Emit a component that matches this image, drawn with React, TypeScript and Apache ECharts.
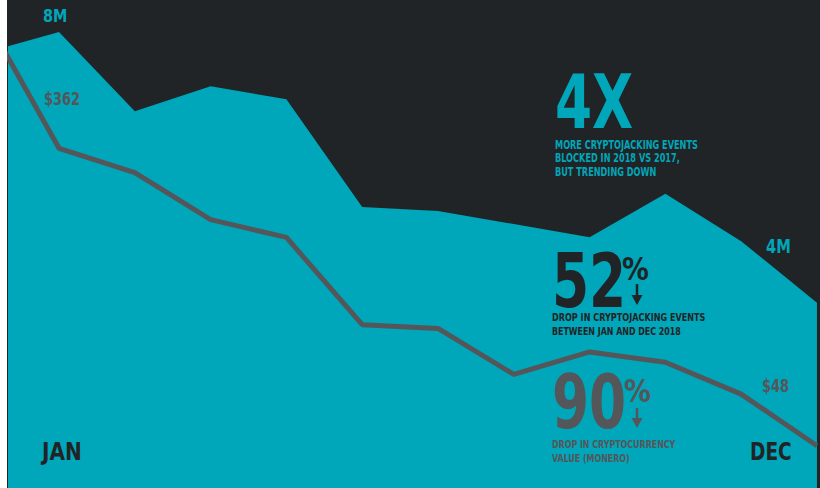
import React, { useEffect, useRef } from "react";
import * as echarts from "echarts";

// Month positions (first point sits just past the left edge of the plot)
const months = ["Jan", "Feb", "Mar", "Apr", "May", "Jun", "Jul", "Aug", "Sep", "Oct", "Nov", "Dec"];
const monthPos = [-1, 0, 1, 2, 3, 4, 5, 6, 7, 8, 9, 10];
// Cryptojacking events blocked (millions)
const eventsM = [7.63, 8.0, 6.61, 7.05, 6.82, 4.93, 4.86, 4.63, 4.4, 5.16, 4.33, 3.25];
// Monero value (USD)
const moneroUSD = [506, 362, 336, 286, 267, 174, 170, 121, 145, 134, 100, 45];

const TEAL = "#00a6b9";
const DARK = "#212426";
const GRAY = "#545659";
const FONT = '"DejaVu Sans Condensed", "DejaVu Sans", sans-serif';
const SQUEEZE = 0.79;

function txt(text: string, x: number, y: number, size: number, fill: string, sx = SQUEEZE) {
  return {
    type: "text",
    x,
    y,
    scaleX: sx,
    z: 100,
    silent: true,
    style: {
      text,
      fill,
      font: `bold ${size}px ${FONT}`,
      align: "left",
      verticalAlign: "middle",
      textAlign: "left",
      textVerticalAlign: "middle",
    },
  };
}

function arrow(x: number, yTop: number, yBottom: number, color: string) {
  return [
    {
      type: "line",
      silent: true,
      z: 100,
      shape: { x1: x, y1: yTop, x2: x, y2: yBottom - 8 },
      style: { stroke: color, lineWidth: 2.5 },
    },
    {
      type: "polygon",
      silent: true,
      z: 100,
      shape: { points: [[x - 5.5, yBottom - 10], [x + 5.5, yBottom - 10], [x, yBottom]] },
      style: { fill: color },
    },
  ];
}

export default function App() {
  const ref = useRef<HTMLDivElement>(null);
  useEffect(() => {
    if (!ref.current) return;
    const chart = echarts.init(ref.current, undefined, { renderer: "svg" });
    const ox = -7; // chart div is offset 7px from page left
    chart.setOption({
      animation: false,
      backgroundColor: DARK,
      grid: { left: 1, right: 0, top: 0, bottom: 0 },
      xAxis: { type: "value", min: -0.673, max: 10.04, show: false },
      yAxis: [
        { type: "value", min: 0, max: 8.561, show: false },
        { type: "value", min: 0, max: 520, show: false },
      ],
      series: [
        {
          name: "Events",
          type: "line",
          data: monthPos.map((p, i) => [p, eventsM[i]]),
          symbol: "none",
          lineStyle: { width: 0 },
          areaStyle: { color: TEAL, opacity: 1 },
          z: 1,
        },
        {
          name: "Monero",
          type: "line",
          yAxisIndex: 1,
          data: monthPos.map((p, i) => [p, moneroUSD[i]]),
          symbol: "none",
          lineStyle: { width: 5, color: GRAY },
          z: 2,
        },
      ],
      graphic: {
        elements: [
          txt("8M", 43 + ox, 15.5, 18, TEAL, 0.89),
          txt("$362", 44 + ox, 99, 18, GRAY, 0.8),
          txt("4X", 555 + ox, 102, 75, TEAL),
          txt("MORE CRYPTOJACKING EVENTS", 555 + ox, 144.5, 11.5, TEAL),
          txt("BLOCKED IN 2018 VS 2017,", 555 + ox, 158, 11.5, TEAL),
          txt("BUT TRENDING DOWN", 555 + ox, 171.5, 11.5, TEAL),
          txt("4M", 766 + ox, 247, 19, TEAL, 0.86),
          txt("52", 552 + ox, 281, 75, DARK),
          txt("%", 622 + ox, 268.5, 32, DARK, 0.93),
          ...arrow(637 + ox, 284, 305, DARK),
          txt("DROP IN CRYPTOJACKING EVENTS", 552 + ox, 317.5, 11, DARK, 0.82),
          txt("BETWEEN JAN AND DEC 2018", 552 + ox, 331, 11, DARK, 0.8),
          txt("90", 552 + ox, 402, 75, GRAY),
          txt("%", 624 + ox, 391, 32, GRAY, 0.93),
          ...arrow(637 + ox, 408, 428, GRAY),
          txt("$48", 762 + ox, 386, 18, GRAY, 0.8),
          txt("DROP IN CRYPTOCURRENCY", 552 + ox, 444, 11, GRAY, 0.8),
          txt("VALUE (MONERO)", 552 + ox, 458, 11, GRAY, 0.8),
          txt("JAN", 42 + ox, 451.5, 24, DARK, 0.93),
          txt("DEC", 750 + ox, 451.5, 24, DARK, 0.86),
        ],
      },
    });
    return () => chart.dispose();
  }, []);
  return (
    <div
      ref={ref}
      style={{ position: "absolute", left: 7, top: 0, width: 813, height: 488 }}
    />
  );
}
